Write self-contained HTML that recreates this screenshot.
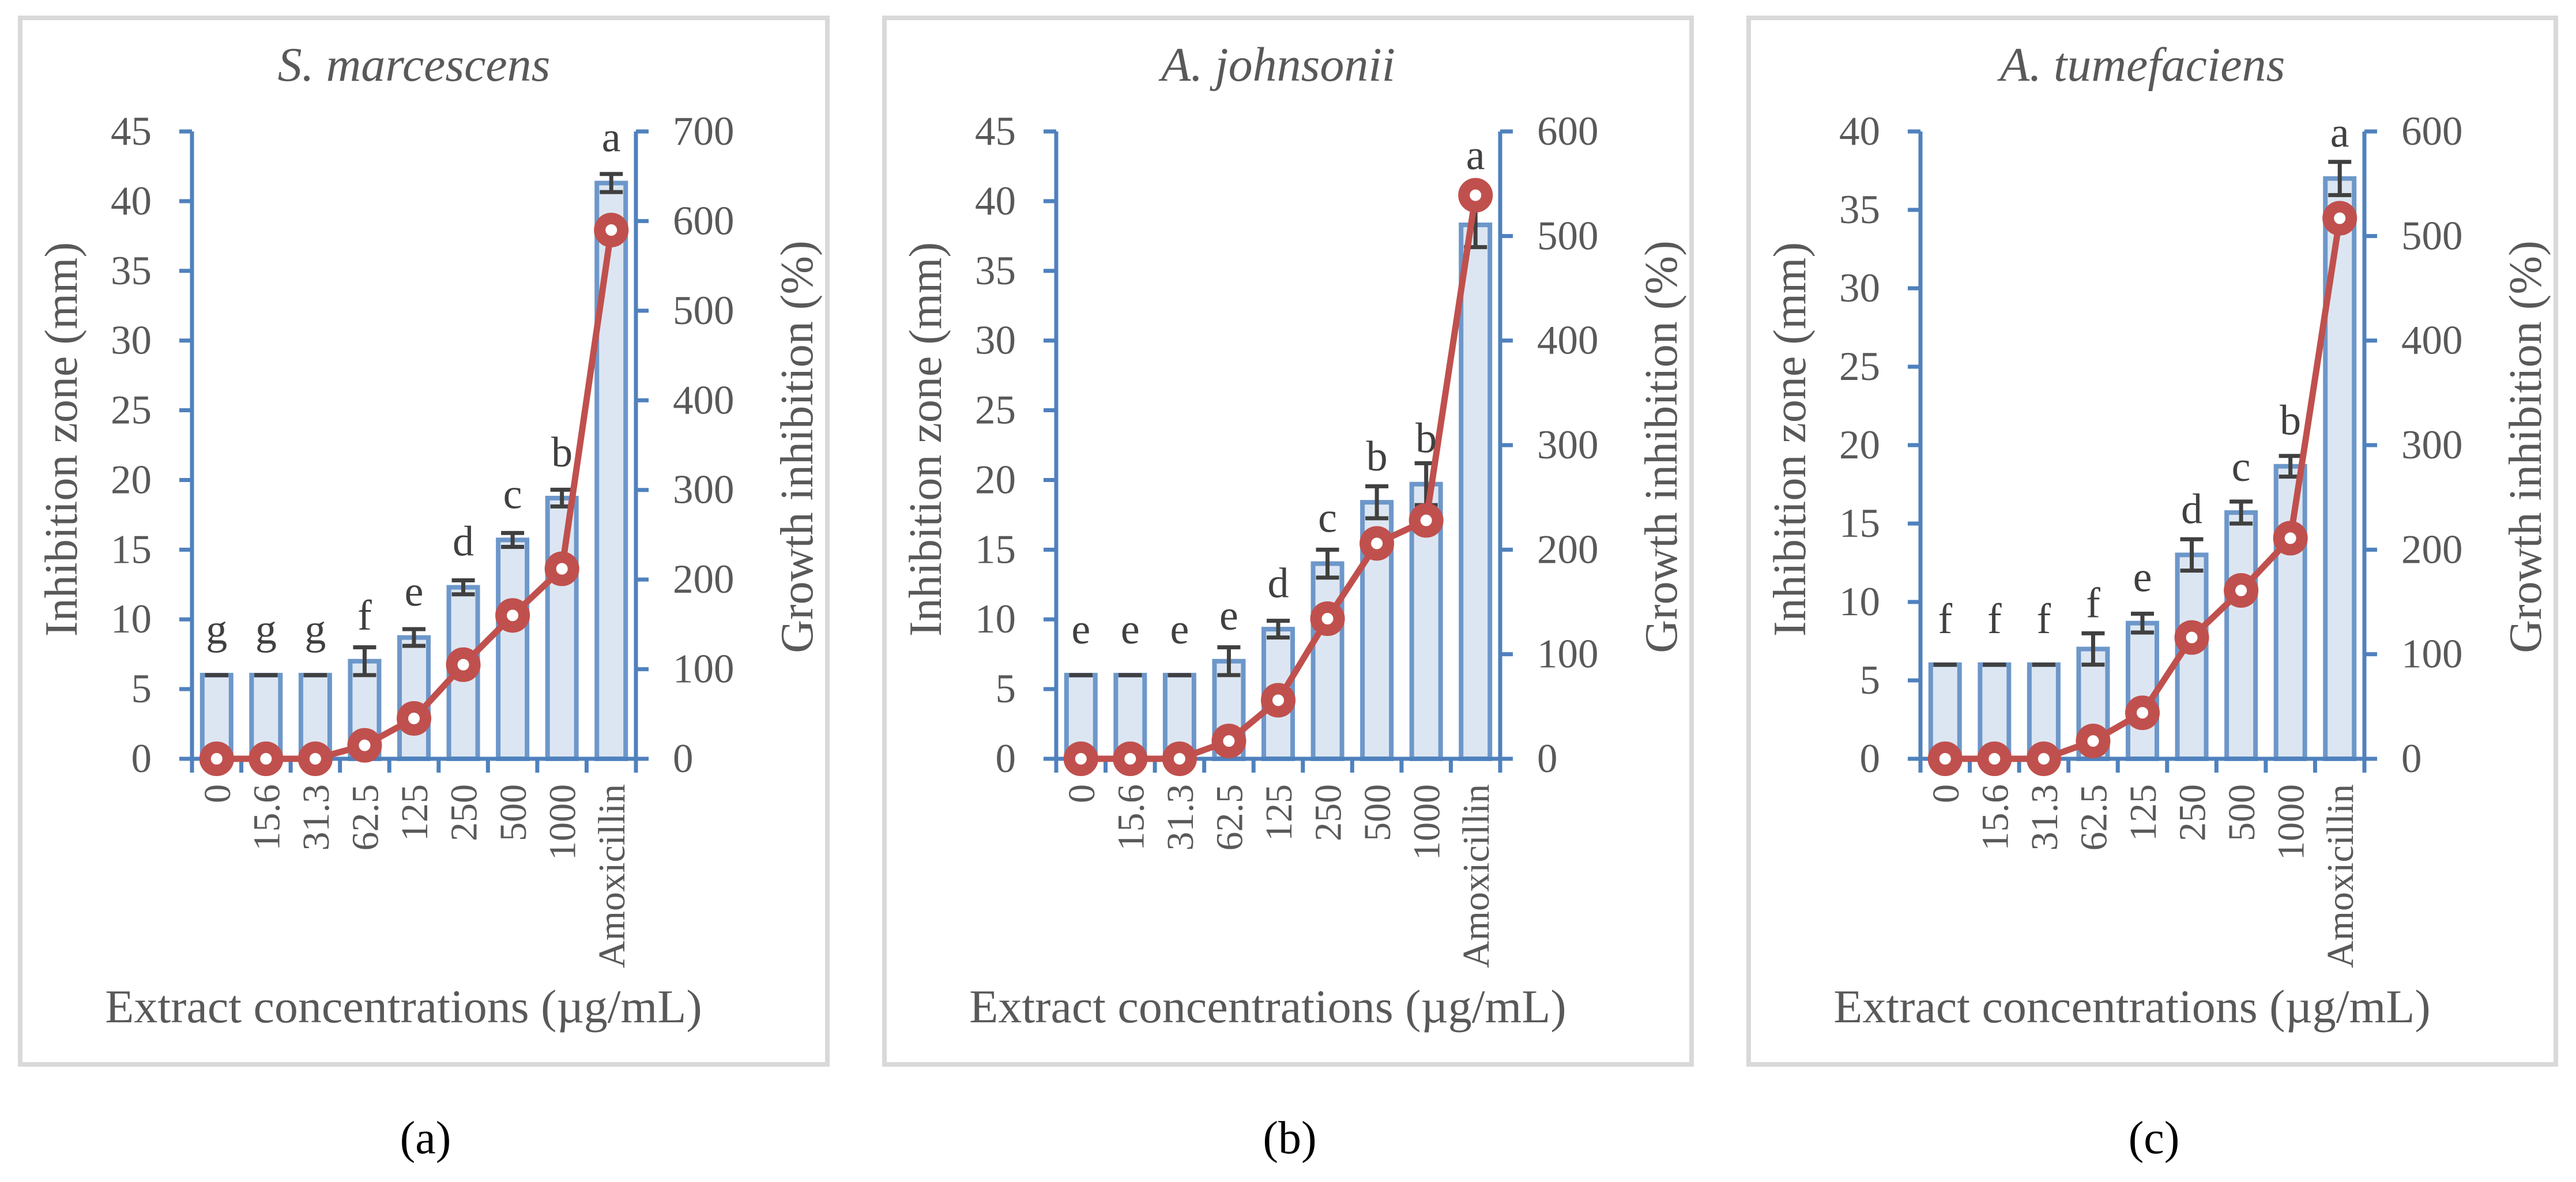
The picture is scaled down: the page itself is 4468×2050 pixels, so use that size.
<!DOCTYPE html>
<html><head><meta charset="utf-8">
<style>
html,body{margin:0;padding:0;background:#fff;}
svg{display:block;}
text{font-family:"Liberation Serif",serif;}
</style></head>
<body>
<svg id="fig" width="4468" height="2050" viewBox="0 0 4468 2050" xmlns="http://www.w3.org/2000/svg"></svg>
<script>
// ---- data ----
const categories = ["0","15.6","31.3","62.5","125","250","500","1000","Amoxicillin"];
const titles = ["S. marcescens","A. johnsonii","A. tumefaciens"];
const panelLabels = ["(a)","(b)","(c)"];
const leftMax = [45,45,40];
const rightMax = [700,600,600];
const leftTicks = [[0,5,10,15,20,25,30,35,40,45],[0,5,10,15,20,25,30,35,40,45],[0,5,10,15,20,25,30,35,40]];
const rightTicks = [[0,100,200,300,400,500,600,700],[0,100,200,300,400,500,600],[0,100,200,300,400,500,600]];
const zoneA = [6,6,6,7,8.7,12.3,15.7,18.7,41.3];
const zoneErrA = [0,0,0,1,0.6,0.5,0.5,0.6,0.65];
const growthA = [0,0,0,15,45,105,160,212,590];
const lettersA = ["g","g","g","f","e","d","c","b","a"];
const zoneB = [6,6,6,7,9.3,14,18.4,19.7,38.3];
const zoneErrB = [0,0,0,1,0.6,1,1.15,1.5,1.6];
const growthB = [0,0,0,17,56,134,206,228,539];
const lettersB = ["e","e","e","e","d","c","b","b","a"];
const zoneC = [6,6,6,7,8.65,13,15.7,18.65,37];
const zoneErrC = [0,0,0,1,0.6,1,0.7,0.66,1.06];
const growthC = [0,0,0,17,44,116,161,211,517];
const lettersC = ["f","f","f","f","e","d","c","b","a"];

const NS = "http://www.w3.org/2000/svg";
const svg = document.getElementById("fig");
function mk(tag, attrs, parent, txt){
  const e = document.createElementNS(NS, tag);
  for (const k in attrs) e.setAttribute(k, attrs[k]);
  if (txt !== undefined) e.textContent = txt;
  (parent || svg).appendChild(e);
  return e;
}

function drawPanel(p, zone, err, growth, letters){
  const off = [0,1499,2998][p];
  const g = mk("g", {});
  
  
  const x0 = 333 + off, x1 = 1103 + off, yTop = 228, yBot = 1316;
  const cw = (x1 - x0) / categories.length;
  const yL = v => yBot - v / leftMax[p] * (yBot - yTop);
  const yR = v => yBot - v / rightMax[p] * (yBot - yTop);
  const xc = i => x0 + cw * (i + 0.5);

  const frame = mk("rect", {x: 35 + off, y: 31, width: 1400, height: 1815, fill: "#fff", stroke: "#d9d9d9", "stroke-width": 8}, g);
  
  

  const t = mk("text", {x: (x0 + x1) / 2, y: 140, "text-anchor": "middle", "font-size": 84, "font-style": "italic", fill: "#595959"}, g, titles[p]);
  
  

  zone.forEach((v, i) => {
    const bw = 50;
    const b = mk("rect", {x: xc(i) - bw / 2, y: yL(v), width: bw, height: yBot - yL(v), fill: "#dce6f2", stroke: "#6d97ca", "stroke-width": 8}, g);
    
    
  });
  zone.forEach((v, i) => {
    const e = err[i];
    const eg = mk("g", {stroke: "#404040", "stroke-width": 7}, g);
    
    
    mk("line", {x1: xc(i), x2: xc(i), y1: yL(v + e), y2: yL(v - e)}, eg);
    mk("line", {x1: xc(i) - 20, x2: xc(i) + 20, y1: yL(v + e), y2: yL(v + e)}, eg);
    mk("line", {x1: xc(i) - 20, x2: xc(i) + 20, y1: yL(v - e), y2: yL(v - e)}, eg);
  });

  const ax = mk("g", {stroke: "#4f81bd", "stroke-width": 7}, g);
  
  
  mk("line", {x1: x0, x2: x0, y1: yTop, y2: yBot + 24}, ax);
  mk("line", {x1: x1, x2: x1, y1: yTop, y2: yBot + 24}, ax);
  mk("line", {x1: x0 - 22, x2: x1 + 22, y1: yBot, y2: yBot}, ax);
  for (let i = 1; i < categories.length; i++) mk("line", {x1: x0 + cw * i, x2: x0 + cw * i, y1: yBot, y2: yBot + 24}, ax);
  leftTicks[p].forEach(v => {
    mk("line", {x1: x0 - 22, x2: x0, y1: yL(v), y2: yL(v)}, ax);
    const tl = mk("text", {x: x0 - 70, y: yL(v) + 23, "text-anchor": "end", "font-size": 71, fill: "#595959", stroke: "none"}, g, String(v));
    
    
  });
  rightTicks[p].forEach(v => {
    mk("line", {x1: x1, x2: x1 + 22, y1: yR(v), y2: yR(v)}, ax);
    const tl = mk("text", {x: x1 + 64, y: yR(v) + 23, "text-anchor": "start", "font-size": 71, fill: "#595959", stroke: "none"}, g, String(v));
    
    
  });
  categories.forEach((c, i) => {
    const cx = xc(i) + 23, cy = 1360;
    const tl = mk("text", {x: cx, y: cy, "text-anchor": "end", "font-size": 66, fill: "#595959", transform: `rotate(-90 ${cx} ${cy})`}, g, c);
    
    
  });

  const pts = growth.map((v, i) => xc(i) + "," + yR(v)).join(" ");
  const pl = mk("polyline", {points: pts, fill: "none", stroke: "#c0504d", "stroke-width": 11, "stroke-linejoin": "round"}, g);
  
  
  growth.forEach((v, i) => {
    const c = mk("circle", {cx: xc(i), cy: yR(v), r: 20, fill: "#fff", stroke: "#c0504d", "stroke-width": 20}, g);
    
    
  });

  letters.forEach((l, i) => {
    let ly = yL(zone[i]) - 55;
    const gy = yR(growth[i]);
    if (Math.abs(ly - gy) < 60) ly = Math.min(ly, gy - 45);
    const lt = mk("text", {x: xc(i), y: ly, "text-anchor": "middle", "font-size": 74, fill: "#404040"}, g, l);
    
    
  });

  const lx = 106 + off, ly = 762;
  const ylt = mk("text", {x: lx, y: ly, "text-anchor": "middle", "font-size": 80, fill: "#595959", transform: `rotate(-90 ${lx} ${ly})`, dy: 27}, g, "Inhibition zone (mm)");
  
  
  const rx = 1382 + off, ry = 775;
  const yrt = mk("text", {x: rx, y: ry, "text-anchor": "middle", "font-size": 80, fill: "#595959", transform: `rotate(-90 ${rx} ${ry})`, dy: 27}, g, "Growth inhibition (%)");
  
  
  const xt = mk("text", {x: 700 + off, y: 1773, "text-anchor": "middle", "font-size": 82, fill: "#595959"}, g, "Extract concentrations (\u00b5g/mL)");
  
  
  const pl2 = mk("text", {x: 738 + off, y: 2000, "text-anchor": "middle", "font-size": 80, fill: "#000"}, svg, panelLabels[p]);
  
  
}

drawPanel(0, zoneA, zoneErrA, growthA, lettersA);
drawPanel(1, zoneB, zoneErrB, growthB, lettersB);
drawPanel(2, zoneC, zoneErrC, growthC, lettersC);
</script>
</body></html>
